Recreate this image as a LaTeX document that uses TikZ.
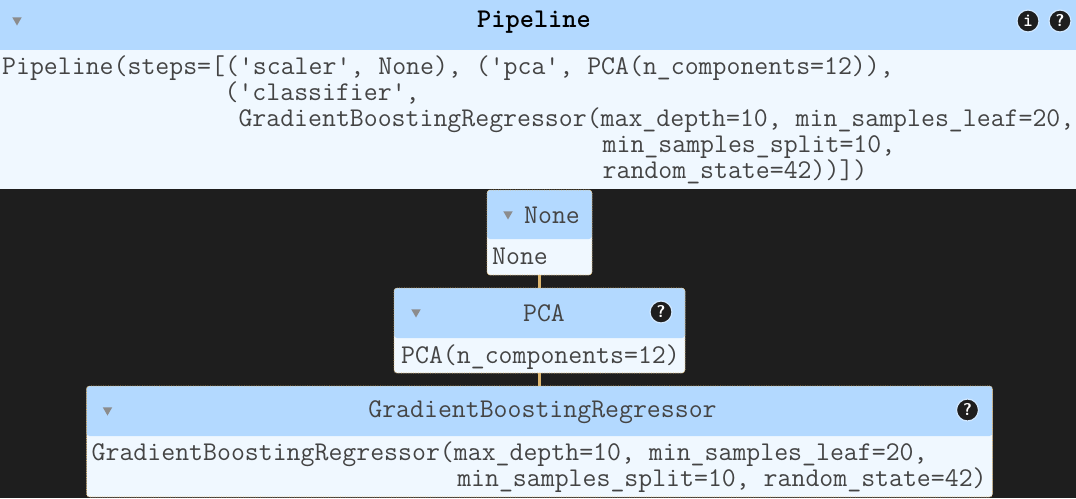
\documentclass[tikz,border=0pt]{standalone}
\usepackage{xcolor}
\usetikzlibrary{shapes.geometric,positioning}
\definecolor{headblue}{HTML}{B3D9FF}
\definecolor{bodyblue}{HTML}{F0F8FF}
\definecolor{darkbg}{HTML}{1E1E1E}
\definecolor{linktan}{HTML}{DDB66F}
\definecolor{codegray}{HTML}{444444}
\newlength{\cw}
\setlength{\cw}{13.9pt}
\newcommand{\cols}[1]{\hspace*{#1\cw}}
\begin{document}
\begin{tikzpicture}[
    x=1pt, y=1pt,
    box/.style={rectangle, rounded corners=3pt, fill=bodyblue, inner sep=0pt, outer sep=0pt, path picture={\fill[headblue] (path picture bounding box.north west) rectangle ([yshift=-#1pt]path picture bounding box.north east);}},
    edge/.style={draw=linktan, densely dotted, line width=0.7pt},
    code/.style={font=\fontsize{27.05}{26}\selectfont\ttfamily, text=codegray, inner sep=0pt, anchor=north west, align=left},
    heading/.style={font=\fontsize{27.05}{26}\selectfont\ttfamily, text=codegray, inner sep=0pt},
    tri/.style={regular polygon, regular polygon sides=3, shape border rotate=180, fill=gray!90, inner sep=0pt, minimum size=11pt},
    icon/.style={circle, fill=darkbg, draw=headblue!60!white, line width=1.2pt, inner sep=0pt, minimum size=22pt, text=white, font=\fontsize{17}{17}\selectfont\bfseries\sffamily},
    conn/.style={draw=linktan, line width=3pt}
]
\useasboundingbox (0,0) rectangle (1076,-498);
\fill[darkbg] (0,0) rectangle (1076,-498);

\node[box=50, rounded corners=0pt, minimum width=1076pt, minimum height=189pt] (pipe) at (538,-94.5) {};
\node[box=49, edge, minimum width=105pt, minimum height=85pt, below=1pt of pipe, xshift=1.5pt] (none) {};
\node[box=50, edge, minimum width=291pt, minimum height=85pt, below=13pt of none] (pca) {};
\node[box=50, edge, minimum width=906pt, minimum height=111pt, below=13pt of pca] (gbr) {};
\draw[conn] (none) -- (pca);
\draw[conn] (pca) -- (gbr);

% top box
\node[tri] (pipetri) at (17,-20) {};
\node[heading, font=\fontsize{27.05}{26}\selectfont\ttfamily\bfseries, text=black] (pipetitle) at (534,-22) {Pipeline};
\node[icon, font=\fontsize{19}{19}\selectfont\ttfamily\bfseries] (pipeinfo) at (1028,-21) {i};
\node[icon] (pipehelp) at (1060,-21) {?};
\node[code, below right=55.5pt and 2pt of pipe.north west] (pipecode) {Pipeline(steps=[('scaler', None), ('pca', PCA(n\_components=12)),\\
\cols{16}('classifier',\\
\cols{17}GradientBoostingRegressor(max\_depth=10, min\_samples\_leaf=20,\\
\cols{43.2}min\_samples\_split=10,\\
\cols{43.2}random\_state=42))])};

% none
\node[tri] (nonetri) at ([shift={(21,-24)}]none.north west) {};
\node[heading] (nonetitle) at ([shift={(65,-25)}]none.north west) {None};
\node[code, below right=57.5pt and 5pt of none.north west] (nonecode) {None};

% pca
\node[tri] (pcatri) at ([shift={(22,-24)}]pca.north west) {};
\node[heading] (pcatitle) at ([shift={(150,-25)}]pca.north west) {PCA};
\node[icon] (pcahelp) at ([shift={(267,-24)}]pca.north west) {?};
\node[code, below right=56.5pt and 7pt of pca.north west] (pcacode) {PCA(n\_components=12)};

% gradient boosting
\node[tri] (gbrtri) at ([shift={(21,-24)}]gbr.north west) {};
\node[heading] (gbrtitle) at ([shift={(456,-26)}]gbr.north west) {GradientBoostingRegressor};
\node[icon] (gbrhelp) at ([shift={(881,-24)}]gbr.north west) {?};
\node[code, below right=56pt and 5pt of gbr.north west] (gbrcode) {GradientBoostingRegressor(max\_depth=10, min\_samples\_leaf=20,\\
\cols{26.3}min\_samples\_split=10, random\_state=42)};
\end{tikzpicture}
\end{document}
